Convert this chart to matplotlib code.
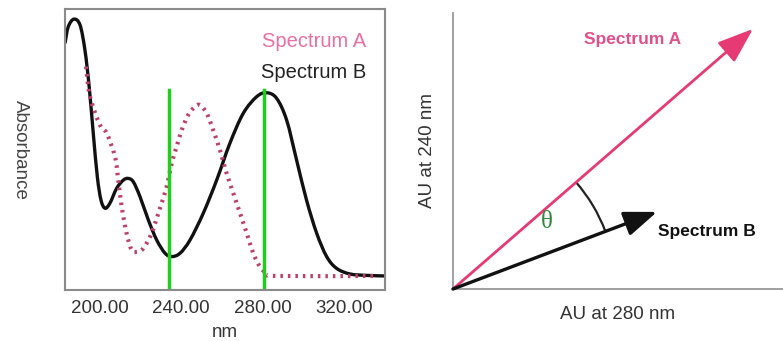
import numpy as np
import matplotlib.pyplot as plt
from matplotlib.patches import Arc, PathPatch
from matplotlib.path import Path

plt.rcParams['font.family'] = ['Liberation Sans', 'DejaVu Sans']

# spectrum B (solid black): wavelength nm, absorbance
b_nm = [182.8, 184.4, 187.2, 190.2, 192.6, 194.7, 196.7, 198.7, 200.5, 202.5,
        204.9, 208.2, 211.5, 213.9, 216.4, 219.7, 223.8, 227.9, 232.0, 235.3,
        239.4, 244.3, 250.8, 257.4, 263.9, 270.5, 277.1, 282.0, 286.9, 291.8,
        296.7, 301.6, 306.6, 311.5, 316.4, 323.0, 331.2, 340.2]
b_abs = [0.878, 0.937, 0.964, 0.943, 0.854, 0.723, 0.558, 0.403, 0.320, 0.291,
         0.309, 0.362, 0.391, 0.397, 0.385, 0.332, 0.249, 0.178, 0.131, 0.119,
         0.131, 0.178, 0.273, 0.391, 0.522, 0.629, 0.688, 0.702, 0.682, 0.605,
         0.463, 0.320, 0.202, 0.119, 0.077, 0.057, 0.052, 0.050]

# spectrum A (pink dotted)
a_nm = [193.1, 195.1, 200.0, 203.3, 207.4, 209.0, 210.7, 213.1, 215.6, 218.0,
        221.3, 225.4, 229.5, 232.8, 235.3, 237.7, 240.2, 243.4, 246.7, 249.2,
        252.5, 255.7, 259.0, 262.3, 265.6, 268.9, 272.2, 275.4, 278.7, 282.0,
        286.9, 334.4]
a_abs = [0.795, 0.688, 0.587, 0.558, 0.474, 0.391, 0.296, 0.202, 0.142, 0.136,
         0.148, 0.202, 0.291, 0.368, 0.451, 0.510, 0.569, 0.623, 0.652, 0.658,
         0.629, 0.569, 0.498, 0.415, 0.344, 0.273, 0.202, 0.131, 0.083, 0.059,
         0.050, 0.050]

marker_nm = [234.0, 280.7]
tick_nm = [200, 240, 280, 320]

# vectors in absorbance space (AU at 280 nm, AU at 240 nm)
vec_a = [1.0, 0.867]
vec_b = [0.68, 0.257]
arc_r = 0.543


def smooth_path(xs, ys):
    """Bezier path through the points (Catmull-Rom style handles)"""
    pts = np.column_stack([xs, ys])
    n = len(pts)
    verts = [pts[0]]
    codes = [Path.MOVETO]
    for i in range(n - 1):
        p0 = pts[max(i - 1, 0)]
        p1 = pts[i]
        p2 = pts[i + 1]
        p3 = pts[min(i + 2, n - 1)]
        verts += [p1 + (p2 - p0) / 6, p2 - (p3 - p1) / 6, p2]
        codes += [Path.CURVE4] * 3
    return Path(verts, codes)


fig = plt.figure(figsize=(7.83, 3.41), dpi=100)

# ---- left: spectra
ax = fig.add_axes([65 / 783, 51 / 341, 320 / 783, 281 / 341])
ax.add_patch(PathPatch(smooth_path(b_nm, b_abs), fill=False, edgecolor='#111111', lw=2.4))
ax.add_patch(PathPatch(smooth_path(a_nm, a_abs), fill=False, edgecolor='#bd3f6c', lw=3.0,
                       linestyle=(0, (0.6, 1.2))))
for x in marker_nm:
    ax.plot([x, x], [0, 0.712], color='#22cc22', lw=2.5)
ax.set_xlim(182.8, 340.2)
ax.set_ylim(0, 1)
ax.set_xticks(tick_nm)
ax.set_xticklabels(['%.2f' % t for t in tick_nm], fontsize=13.5, color='#333333')
ax.tick_params(axis='x', length=0, pad=7)
ax.set_yticks([])
for s in ax.spines.values():
    s.set_color('#8a8a8a')
    s.set_linewidth(1.5)
ax.set_xlabel('nm', fontsize=13.5, color='#333333', labelpad=5)
ax.text(0.94, 0.885, 'Spectrum A', transform=ax.transAxes, ha='right', va='center',
        fontsize=14.5, color='#e870a4')
ax.text(0.94, 0.775, 'Spectrum B', transform=ax.transAxes, ha='right', va='center',
        fontsize=14.5, color='#222222')
fig.text(20 / 783, 1 - 150 / 341, 'Absorbance', rotation=270, ha='center', va='center',
         fontsize=13.5, color='#444444')

# ---- right: vectors
ax2 = fig.add_axes([453 / 783, 52 / 341, 330 / 783, 276 / 341])
ax2.set_xlim(0, 1.1)
ax2.set_ylim(0, 0.92)
for side in ['top', 'right']:
    ax2.spines[side].set_visible(False)
for side in ['left', 'bottom']:
    ax2.spines[side].set_color('#999999')
    ax2.spines[side].set_linewidth(1.3)
ax2.set_xticks([])
ax2.set_yticks([])

ax2.annotate('', xy=vec_a, xytext=(0, 0),
             arrowprops=dict(arrowstyle='-|>,head_length=1.1,head_width=0.4',
                             mutation_scale=20, color='#e63a74', lw=2,
                             shrinkA=0, shrinkB=0))
ax2.annotate('', xy=vec_b, xytext=(0, 0),
             arrowprops=dict(arrowstyle='-|>,head_length=1.0,head_width=0.38',
                             mutation_scale=20, color='#111111', lw=2.4,
                             shrinkA=0, shrinkB=0))
ang_a = np.degrees(np.arctan2(vec_a[1], vec_a[0]))
ang_b = np.degrees(np.arctan2(vec_b[1], vec_b[0]))
ax2.add_patch(Arc((0, 0), 2 * arc_r, 2 * arc_r, theta1=ang_b, theta2=ang_a,
                  color='#222222', lw=1.6))
ax2.text(0.313, 0.223, 'θ', fontsize=18, color='#2e8b3a', ha='center', va='center',
         family=['Liberation Serif', 'DejaVu Serif'])
ax2.text(0.597, 0.833, 'Spectrum A', fontsize=12.5, fontweight='bold', color='#e0508a',
         ha='center', va='center')
ax2.text(0.683, 0.193, 'Spectrum B', fontsize=12.5, fontweight='bold', color='#111111',
         ha='left', va='center')
ax2.set_xlabel('AU at 280 nm', fontsize=13.5, color='#333333', labelpad=12)
ax2.set_ylabel('AU at 240 nm', fontsize=13.5, color='#333333', labelpad=12)

fig.savefig('out.png', dpi=100)
